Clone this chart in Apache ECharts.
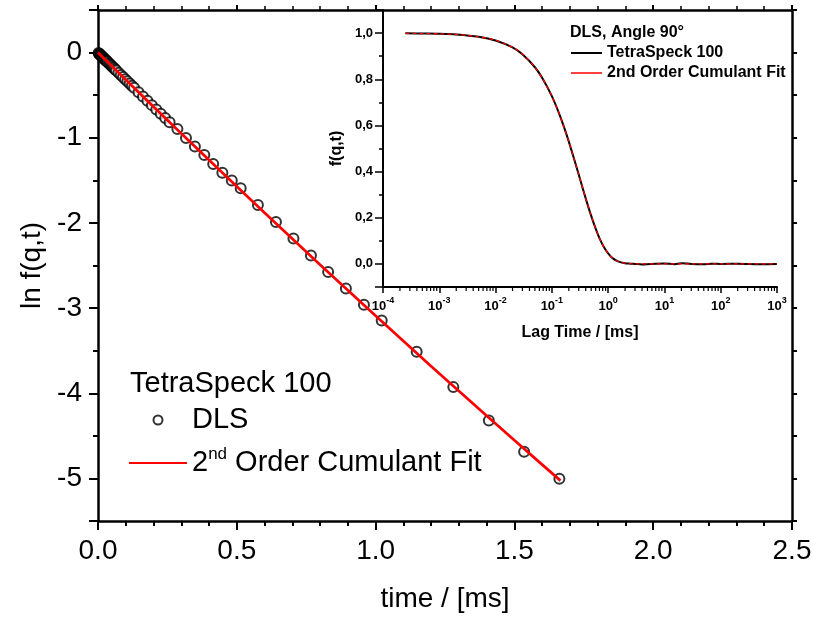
<!DOCTYPE html>
<html><head><meta charset="utf-8">
<script src="https://cdn.jsdelivr.net/npm/echarts@6/dist/echarts.min.js"></script>
<style>html,body{margin:0;padding:0;background:#fff}#c{width:814px;height:619px}</style>
</head><body><div id="c"></div>
<script>
// ---- main plot: ln f(q,t) vs time ----
const dlsTime = [0.002,0.004,0.006,0.008,0.010,0.012,0.014,0.016,0.018,0.020,0.022,0.024,0.026,0.028,0.030,0.032,0.034,
  0.038,0.042,0.046,0.050,0.054,0.058,0.062,0.066,0.074,0.082,0.090,0.098,0.106,0.114,0.122,0.130,
  0.146,0.162,0.178,0.194,0.210,0.226,0.242,0.258,0.286,0.317,0.349,0.383,0.415,0.448,0.482,0.514,
  0.576,0.641,0.704,0.767,0.829,0.893,0.958,1.022,1.148,1.280,1.408,1.535,1.662];
const dlsLnF = [-0.006,-0.013,-0.019,-0.026,-0.032,-0.038,-0.045,-0.051,-0.058,-0.064,-0.070,-0.077,-0.083,-0.090,-0.096,-0.102,-0.109,
  -0.122,-0.134,-0.147,-0.160,-0.173,-0.185,-0.198,-0.211,-0.236,-0.262,-0.287,-0.313,-0.338,-0.363,-0.389,-0.414,
  -0.465,-0.516,-0.566,-0.617,-0.667,-0.718,-0.768,-0.818,-0.897,-1.002,-1.104,-1.202,-1.308,-1.410,-1.503,-1.593,
  -1.789,-1.988,-2.184,-2.383,-2.575,-2.771,-2.962,-3.147,-3.514,-3.928,-4.320,-4.688,-5.005];
const fitTime = [0,0.1,0.2,0.3,0.4,0.5,0.6,0.7,0.8,0.9,1.0,1.1,1.2,1.3,1.4,1.5,1.6,1.666];
const fitLnF = [0,-0.319,-0.636,-0.950,-1.262,-1.573,-1.880,-2.186,-2.490,-2.791,-3.090,-3.387,-3.682,-3.974,-4.264,-4.553,-4.838,-5.026];
const mainXTicks = [0, 2.5, 0.5];      // min, max, step
const mainYTicks = [-5.5, 0.5];        // min, max

// ---- inset: f(q,t) vs lag time (log) ----
const lagTime = [0.00025,0.0005,0.001,0.002,0.005,0.01,0.02,0.03,0.05,0.07,0.1,0.13,0.16,0.2,0.25,0.3,0.35,0.4,0.5,0.6,0.7,0.85,1.0,1.2,1.5,2,2.5,3,4,5,7,10,15,20,30,50,70,100,200,500,1000];
const measF = [0.999,0.998,0.997,0.994,0.984,0.968,0.938,0.908,0.852,0.799,0.727,0.661,0.601,0.530,0.452,0.387,0.331,0.283,0.208,0.153,0.112,0.071,0.046,0.025,0.011,0.003,0.001,0.000,-0.002,-0.001,0.001,0.002,-0.001,0.003,0.000,-0.001,0.001,0.000,0.001,-0.001,0.000];
const cumFitF = [0.999,0.998,0.997,0.994,0.984,0.969,0.938,0.909,0.852,0.799,0.727,0.661,0.601,0.530,0.452,0.387,0.331,0.283,0.208,0.153,0.112,0.071,0.046,0.025,0.011,0.003,0.001,0.000,0.000,0.000,0.000,0.000,0.000,0.000,0.000,0.000,0.000,0.000,0.000,0.000,0.000];
const insetYMin = -0.1, insetYMax = 1.1;
const insetXMin = 1e-4, insetXMax = 1e3;

const FONT = 'Liberation Sans, Arial, sans-serif';
const zip = (a, b) => a.map((v, i) => [v, b[i]]);

// log minor tick positions (2..9 per decade)
const logMinor = [];
for (let e = -4; e < 3; e++) for (let m = 2; m <= 9; m++) logMinor.push([m * Math.pow(10, e), insetYMin]);

const chart = echarts.init(document.getElementById('c'), null, {renderer: 'canvas'});
const blackAxis = {onZero: false, lineStyle: {color: '#000', width: 2.5}};
chart.setOption({
  animation: false,
  backgroundColor: '#fff',
  title: [
    {text: 'TetraSpeck 100', left: 130, top: 369, padding: 0, textStyle: {fontFamily: FONT, fontSize: 29, fontWeight: 'normal', color: '#000'}},
    {text: 'DLS, Angle 90°', left: 570, top: 25, padding: 0, textStyle: {fontFamily: FONT, fontSize: 16, fontWeight: 'bold', color: '#000'}}
  ],
  legend: [
    {data: [{name: 'DLS'}, {name: 'Fit', itemStyle: {opacity: 0}}], orient: 'vertical', left: 128, top: 403, padding: 0,
     itemWidth: 58, itemHeight: 9, itemGap: 9,
     formatter: n => n === 'Fit' ? '2{sup|nd} Order Cumulant Fit' : n,
     textStyle: {fontFamily: FONT, fontSize: 29, color: '#000', lineHeight: 34,
       rich: {sup: {fontFamily: FONT, fontSize: 17, color: '#000', verticalAlign: 'top', lineHeight: 18}}}},
    {data: [{name: 'TetraSpeck 100', itemStyle: {opacity: 0}}, {name: '2nd Order Cumulant Fit', itemStyle: {opacity: 0}, lineStyle: {type: 'solid', width: 1.5}}],
     orient: 'vertical', left: 570, top: 44, padding: 0, itemWidth: 31, itemHeight: 8, itemGap: 2,
     textStyle: {fontFamily: FONT, fontSize: 16, fontWeight: 'bold', color: '#000', lineHeight: 18}}
  ],
  grid: [
    {left: 98, right: 22, top: 10, bottom: 98, containLabel: false, outerBoundsMode: 'none'},
    {left: 383, right: 37, top: 10, bottom: 332, containLabel: false, outerBoundsMode: 'none'}
  ],
  xAxis: [
    {gridIndex: 0, type: 'value', position: 'bottom', min: mainXTicks[0], max: mainXTicks[1], interval: mainXTicks[2],
     name: 'time / [ms]', nameLocation: 'middle', nameGap: 64,
     nameTextStyle: {fontFamily: FONT, fontSize: 28, color: '#000'},
     axisLine: blackAxis, axisTick: {length: 9, lineStyle: {color: '#000', width: 2}},
     minorTick: {show: true, splitNumber: 5, length: 5, lineStyle: {color: '#000', width: 2}},
     splitLine: {show: false},
     axisLabel: {fontFamily: FONT, fontSize: 28, color: '#000', margin: 16, formatter: v => v.toFixed(1)}},
    {gridIndex: 0, type: 'value', position: 'top', min: mainXTicks[0], max: mainXTicks[1], interval: mainXTicks[2],
     axisLine: blackAxis, axisTick: {length: 5, lineStyle: {color: '#000', width: 2}},
     minorTick: {show: true, splitNumber: 5, length: 4, lineStyle: {color: '#000', width: 1.5}},
     splitLine: {show: false}, axisLabel: {show: false}},
    {gridIndex: 1, type: 'log', logBase: 10, min: insetXMin, max: insetXMax, position: 'bottom',
     name: 'Lag Time / [ms]', nameLocation: 'middle', nameGap: 38,
     nameTextStyle: {fontFamily: FONT, fontSize: 16, fontWeight: 'bold', color: '#000'},
     axisLine: {onZero: false, lineStyle: {color: '#000', width: 2}}, axisTick: {length: 6, lineStyle: {color: '#000', width: 1.5}},
     splitLine: {show: false},
     axisLabel: {fontFamily: FONT, fontSize: 13, fontWeight: 'bold', color: '#000', margin: 9, lineHeight: 20,
       formatter: v => '10{e|' + Math.round(Math.log10(v)) + '}',
       rich: {e: {fontFamily: FONT, fontSize: 9, fontWeight: 'bold', color: '#000', verticalAlign: 'top', lineHeight: 10}}}}
  ],
  yAxis: [
    {gridIndex: 0, type: 'value', position: 'left', min: mainYTicks[0], max: mainYTicks[1], interval: 0.5,
     name: 'ln f(q,t)', nameLocation: 'middle', nameGap: 52,
     nameTextStyle: {fontFamily: FONT, fontSize: 28, color: '#000'},
     axisLine: blackAxis, axisTick: {length: 5, lineStyle: {color: '#000', width: 2}}, splitLine: {show: false},
     axisLabel: {fontFamily: FONT, fontSize: 28, color: '#000', margin: 16,
       formatter: v => Math.abs(v - Math.round(v)) < 1e-6 ? String(Math.round(v)) : ''}},
    {gridIndex: 0, type: 'value', position: 'left', min: mainYTicks[0], max: mainYTicks[1], splitNumber: 6,
     axisLine: {show: false, onZero: false}, axisTick: {length: 9, lineStyle: {color: '#000', width: 2}}, splitLine: {show: false}, axisLabel: {show: false}},
    {gridIndex: 0, type: 'value', position: 'right', min: mainYTicks[0], max: mainYTicks[1], interval: 0.5,
     axisLine: blackAxis, axisTick: {length: 5, lineStyle: {color: '#000', width: 2}}, splitLine: {show: false}, axisLabel: {show: false}},
    {gridIndex: 1, type: 'value', position: 'left', min: insetYMin, max: insetYMax, interval: 0.1,
     name: 'f(q,t)', nameLocation: 'middle', nameGap: 38,
     nameTextStyle: {fontFamily: FONT, fontSize: 16, fontWeight: 'bold', color: '#000'},
     axisLine: {onZero: false, lineStyle: {color: '#000', width: 2}}, axisTick: {length: 4, lineStyle: {color: '#000', width: 1.5}}, splitLine: {show: false},
     axisLabel: {fontFamily: FONT, fontSize: 13, fontWeight: 'bold', color: '#000', margin: 10,
       formatter: v => { const k = Math.round(v * 10); return (k >= 0 && k <= 10 && k % 2 === 0 && Math.abs(v * 10 - k) < 1e-6) ? (k / 10).toFixed(1).replace('.', ',') : ''; }}},
    {gridIndex: 1, type: 'value', position: 'left', min: insetYMin, max: insetYMax, splitNumber: 6,
     axisLine: {show: false, onZero: false}, axisTick: {length: 8, lineStyle: {color: '#000', width: 1.5}}, splitLine: {show: false}, axisLabel: {show: false}}
  ],
  series: [
    {name: 'DLS', type: 'scatter', xAxisIndex: 0, yAxisIndex: 0, data: zip(dlsTime, dlsLnF),
     symbol: 'emptyCircle', symbolSize: 10, itemStyle: {color: '#000', borderColor: '#000', borderWidth: 1.8}, z: 2},
    {name: 'Fit', type: 'line', xAxisIndex: 0, yAxisIndex: 0, data: zip(fitTime, fitLnF),
     symbol: 'none', lineStyle: {color: '#ff0000', width: 2.7}, itemStyle: {color: '#ff0000'}, z: 3},
    {name: 'TetraSpeck 100', type: 'line', xAxisIndex: 2, yAxisIndex: 3, data: zip(lagTime, measF), smooth: 0.3,
     symbol: 'none', lineStyle: {color: '#000', width: 2}, itemStyle: {color: '#000'}, z: 2},
    {name: '2nd Order Cumulant Fit', type: 'line', xAxisIndex: 2, yAxisIndex: 3, data: zip(lagTime, cumFitF), smooth: 0.3,
     symbol: 'none', lineStyle: {color: '#ff0000', width: 1.3, type: [4, 3]}, itemStyle: {color: '#ff0000'}, z: 3},
    {name: 'logMinorTicks', type: 'custom', xAxisIndex: 2, yAxisIndex: 3, data: logMinor, clip: false, silent: true,
     renderItem: (params, api) => {
       const p = api.coord([api.value(0), api.value(1)]);
       return {type: 'line', shape: {x1: p[0], y1: p[1], x2: p[0], y2: p[1] + 4}, style: {stroke: '#000', lineWidth: 1.2}};
     }, z: 4}
  ]
});
</script></body></html>
